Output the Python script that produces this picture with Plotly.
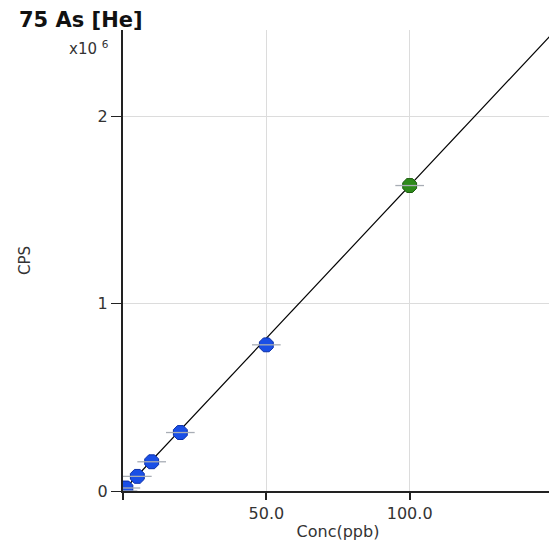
import plotly.graph_objects as go

conc_blue = [0, 1, 5, 10, 20, 50]
cps_blue = [0, 16000, 78000, 156000, 312000, 780000]
conc_green = [100]
cps_green = [1630000]
fit_conc = [0, 150]
fit_cps = [0, 2445000]
err_conc = 5

x_ticks = [0, 50, 100, 150]
x_ticktext = ["", "50.0", "100.0", ""]
y_ticks = [0, 1e6, 2e6]
y_ticktext = ["0", "1", "2"]

# the page body adds an 8px offset, so the figure is sized to the remaining window
OFF = 8
W, H = 557 - OFF, 546 - OFF
ML, MR, MT, MB = 123 - OFF, 4, 30 - OFF, 55
pw = W - ML - MR
ph = H - MT - MB
bottom = MT + ph


def px(xw):
    return (xw - OFF - ML) / pw


def py(yw):
    return (bottom - (yw - OFF)) / ph


fig = go.Figure()
fig.add_trace(go.Scatter(x=fit_conc, y=fit_cps, mode="lines",
                         line=dict(color="black", width=1.2), showlegend=False, hoverinfo="skip"))
fig.add_trace(go.Scatter(x=conc_blue, y=cps_blue, mode="markers",
                         marker=dict(symbol="octagon", size=15, color="#1a4fe6",
                                     line=dict(color="#0b2fa8", width=1)),
                         showlegend=False))
fig.add_trace(go.Scatter(x=conc_green, y=cps_green, mode="markers",
                         marker=dict(symbol="octagon", size=15, color="#2e8a1a",
                                     line=dict(color="#1b5a0e", width=1)),
                         showlegend=False))
# horizontal error bars drawn on top of the markers
fig.add_trace(go.Scatter(x=conc_blue + conc_green, y=cps_blue + cps_green, mode="markers",
                         marker=dict(size=1, opacity=0),
                         error_x=dict(type="constant", value=err_conc, color="#a8adb5",
                                      thickness=1.3, width=0),
                         showlegend=False, hoverinfo="skip"))

font_family = "DejaVu Sans, Arial, sans-serif"
fig.update_layout(
    width=W, height=H,
    margin=dict(l=ML, r=MR, t=MT, b=MB, autoexpand=False),
    paper_bgcolor="white", plot_bgcolor="white",
    font=dict(family=font_family, size=16, color="#333"),
    xaxis=dict(range=[0, 150], tickvals=x_ticks, ticktext=x_ticktext,
               showgrid=True, gridcolor="#dcdcdc", gridwidth=1,
               showline=True, linecolor="#222", linewidth=2,
               ticks="outside", ticklen=7, tickcolor="#222", tickwidth=2,
               zeroline=False, automargin=False,
               tickfont=dict(size=16, color="#333"),
               title=dict(text="Conc(ppb)", font=dict(size=16, color="#333"), standoff=4)),
    yaxis=dict(range=[0, 2.46e6], tickvals=y_ticks, ticktext=y_ticktext,
               showgrid=True, gridcolor="#dcdcdc", gridwidth=1,
               showline=True, linecolor="#222", linewidth=2,
               ticks="outside", ticklen=10, tickcolor="#222", tickwidth=1,
               zeroline=False, automargin=False,
               tickfont=dict(size=16, color="#333")),
    annotations=[
        dict(text="<b>75 As [He]</b>", x=px(17), y=py(20),
             xref="paper", yref="paper", showarrow=False,
             font=dict(size=21, color="#111", family=font_family),
             xanchor="left", yanchor="middle"),
        dict(text="x10 <sup>6</sup>", x=px(111), y=py(48),
             xref="paper", yref="paper", showarrow=False,
             font=dict(size=15, color="#333", family=font_family),
             xanchor="right", yanchor="middle"),
        dict(text="CPS", x=px(25), y=py(261), textangle=-90,
             xref="paper", yref="paper", showarrow=False,
             font=dict(size=15, color="#333", family=font_family),
             xanchor="center", yanchor="middle"),
    ],
)

fig.write_html("out.html")
